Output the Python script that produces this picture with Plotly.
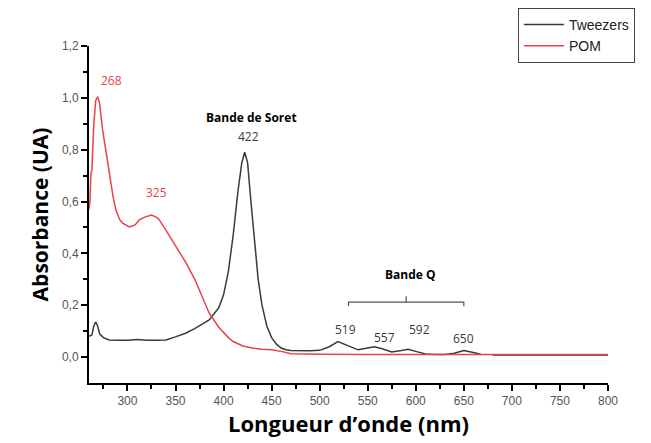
import plotly.graph_objects as go

# Spectres UV-visible
wl_tweezers = [260, 263, 265, 267, 269, 271, 275, 281, 290, 300, 310, 320, 330, 340, 350, 361, 370,
               385, 395, 400, 405, 410, 415, 419, 422, 425, 428, 432, 436, 440, 445, 450, 455, 460,
               465, 470, 480, 490, 500, 510, 519, 528, 540, 550, 557, 565, 575, 585, 592, 600, 610,
               620, 630, 640, 650, 660, 668, 672, 680, 700, 750, 800]
abs_tweezers = [0.08, 0.085, 0.12, 0.135, 0.12, 0.09, 0.075, 0.066, 0.065, 0.065, 0.068, 0.065, 0.065,
                0.066, 0.078, 0.093, 0.11, 0.143, 0.19, 0.24, 0.33, 0.47, 0.64, 0.75, 0.79, 0.75, 0.62,
                0.45, 0.3, 0.2, 0.12, 0.075, 0.05, 0.035, 0.028, 0.025, 0.024, 0.024, 0.026, 0.04, 0.06,
                0.045, 0.028, 0.035, 0.04, 0.032, 0.02, 0.025, 0.03, 0.022, 0.012, 0.01, 0.01, 0.015,
                0.025, 0.018, 0.01, None, 0.008, 0.008, 0.008, 0.008]

wl_pom = [260, 261, 262, 263, 265, 267, 269, 271, 274, 278, 281, 285, 288, 292, 295, 302, 308, 312, 318,
          325, 330, 333, 340, 350, 361, 370, 385, 395, 400, 405, 410, 420, 430, 440, 450, 460, 470, 480,
          500, 550, 600, 650, 700, 750, 800]
abs_pom = [0.57, 0.6, 0.71, 0.72, 0.9, 0.99, 1.004, 0.98, 0.88, 0.78, 0.71, 0.62, 0.567, 0.53, 0.517,
           0.502, 0.51, 0.528, 0.54, 0.548, 0.54, 0.53, 0.49, 0.43, 0.363, 0.3, 0.17, 0.115, 0.095,
           0.075, 0.06, 0.043, 0.035, 0.03, 0.028, 0.022, 0.013, 0.012, 0.011, 0.01, 0.01, 0.01, 0.01,
           0.01, 0.01]

pom_labels = ["268", "325"]
pom_label_x = [283, 330]
pom_label_y = [1.066, 0.633]

q_labels = ["519", "557", "592", "650"]
q_label_x = [527, 567, 604, 650]
q_label_y = [0.108, 0.077, 0.108, 0.073]

BLACK = "#3a3a3a"
RED = "#e8424a"

fig = go.Figure()
fig.add_trace(go.Scatter(x=wl_tweezers, y=abs_tweezers, mode="lines", name="Tweezers",
                         line=dict(color=BLACK, width=1.5)))
fig.add_trace(go.Scatter(x=wl_pom, y=abs_pom, mode="lines", name="POM",
                         line=dict(color=RED, width=1.5)))

ann_font = dict(family="Open Sans", size=12)
for t, x, y in zip(pom_labels, pom_label_x, pom_label_y):
    fig.add_annotation(x=x, y=y, text=t, showarrow=False, font=dict(ann_font, color=RED))
for t, x, y in zip(q_labels, q_label_x, q_label_y):
    fig.add_annotation(x=x, y=y, text=t, showarrow=False, font=dict(ann_font, color=BLACK))

fig.add_annotation(x=429, y=0.923, text="<b>Bande de Soret</b>", showarrow=False,
                   font=dict(family="Open Sans", size=12, color="black"))
fig.add_annotation(x=426, y=0.85, text="422", showarrow=False, font=dict(ann_font, color=BLACK))
fig.add_annotation(x=594, y=0.317, text="<b>Bande Q</b>", showarrow=False,
                   font=dict(family="Open Sans", size=12, color="black"))

# accolade de la bande Q
fig.add_shape(type="path", xref="x", yref="y",
              path="M 530,0.196 L 530,0.212 L 650,0.212 L 650,0.196 M 590,0.212 L 590,0.235",
              line=dict(color="#555555", width=1.2))

# la page ajoute une marge de 8 px autour de la figure
fig.update_layout(
    width=643, height=435,
    margin=dict(l=81, r=43, t=38, b=60, autoexpand=False),
    paper_bgcolor="white", plot_bgcolor="white",
    separators=",.",
    showlegend=True,
    legend=dict(xref="container", yref="container", x=0.793, y=1.0, xanchor="left", yanchor="top",
                bordercolor="#444444", borderwidth=1, bgcolor="white",
                font=dict(family="Liberation Sans", size=14, color="#222222"),
                tracegroupgap=0, itemwidth=40),
    xaxis=dict(range=[260, 800], tickvals=list(range(300, 801, 50)), ticks="outside", ticklen=6,
               tickwidth=2, tickcolor="black", showline=True, linecolor="black", linewidth=2,
               showgrid=False, zeroline=False,
               minor=dict(tickvals=list(range(275, 800, 50)), ticks="outside", ticklen=4,
                          tickwidth=2, tickcolor="black"),
               tickfont=dict(family="Liberation Sans", size=12, color="#555555"),
               title=dict(text="<b>Longueur d’onde (nm)</b>", standoff=8,
                          font=dict(family="Open Sans", size=22, color="black"))),
    yaxis=dict(range=[-0.1, 1.2], tickvals=[0, 0.2, 0.4, 0.6, 0.8, 1.0, 1.2], tickformat=".1f",
               ticks="outside", ticklen=6, tickwidth=2, tickcolor="black", showline=True,
               linecolor="black", linewidth=2, showgrid=False, zeroline=False,
               minor=dict(tickvals=[0.1, 0.3, 0.5, 0.7, 0.9, 1.1], ticks="outside", ticklen=4,
                          tickwidth=2, tickcolor="black"),
               tickfont=dict(family="Liberation Sans", size=12, color="#555555"),
               title=dict(text="<b>Absorbance (UA)</b>", standoff=8,
                          font=dict(family="Open Sans", size=21, color="black"))),
)

fig.write_html("out.html")
